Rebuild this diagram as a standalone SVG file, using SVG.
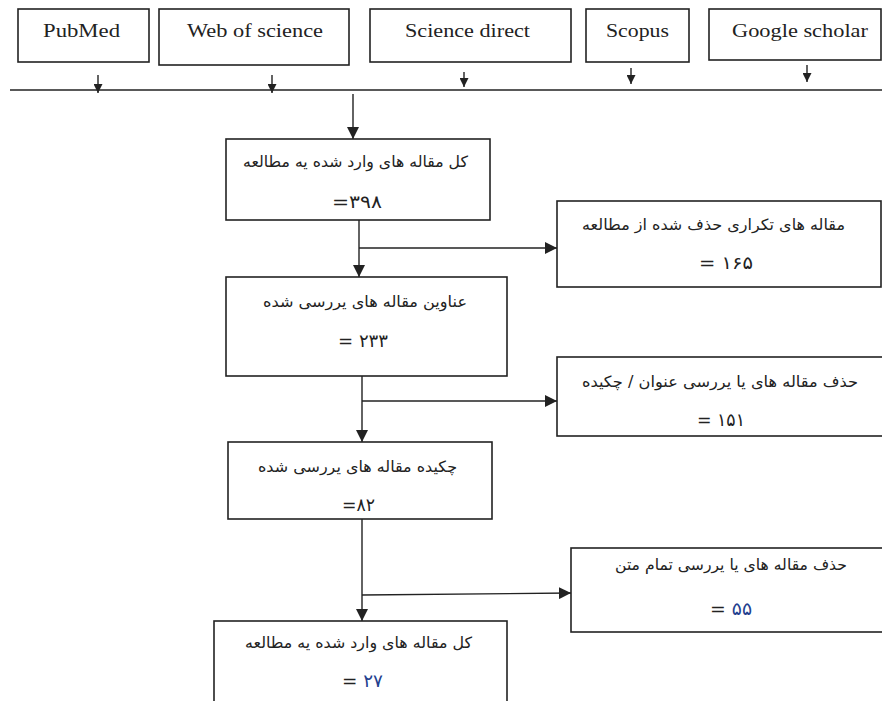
<svg xmlns="http://www.w3.org/2000/svg" width="882" height="701" viewBox="0 0 882 701">
<style>
.bg{fill:#fff}
.box{fill:#fff;stroke:#222;stroke-width:1.6}
.ln{fill:none;stroke:#222;stroke-width:1.4}
.lat{font-family:"Liberation Serif","Times New Roman",serif;font-size:19px;fill:#222;text-anchor:middle}
.fa{font-family:"DejaVu Sans","Noto Sans",sans-serif;font-size:15.5px;fill:#222;text-anchor:middle}
.num{font-family:"DejaVu Sans","Noto Sans",sans-serif;font-size:18px;fill:#222;text-anchor:middle}
.blue{fill:#23408e}
</style>
<defs>
<marker id="ah" viewBox="0 0 10 10" refX="10" refY="5" markerWidth="12" markerHeight="12" markerUnits="userSpaceOnUse" orient="auto">
<path d="M0,0 L10,5 L0,10 z" fill="#222"/>
</marker>
<marker id="ahs" viewBox="0 0 10 10" refX="10" refY="5" markerWidth="9" markerHeight="9" markerUnits="userSpaceOnUse" orient="auto">
<path d="M0,0 L10,5 L0,10 z" fill="#222"/>
</marker>
</defs>
<rect class="bg" x="0" y="0" width="882" height="701"/>

<g id="connectors">
<line class="ln" x1="10" y1="90" x2="882" y2="90"/>
<line class="ln" x1="98" y1="75" x2="98" y2="93" marker-end="url(#ahs)"/>
<line class="ln" x1="272" y1="75" x2="272" y2="93" marker-end="url(#ahs)"/>
<line class="ln" x1="464" y1="72" x2="464" y2="87" marker-end="url(#ahs)"/>
<line class="ln" x1="631" y1="68" x2="631" y2="84" marker-end="url(#ahs)"/>
<line class="ln" x1="807" y1="65" x2="807" y2="82" marker-end="url(#ahs)"/>
<line class="ln" x1="353" y1="94" x2="353" y2="139" marker-end="url(#ah)"/>
<line class="ln" x1="359" y1="220" x2="359" y2="277" marker-end="url(#ah)"/>
<line class="ln" x1="359" y1="248" x2="557" y2="248" marker-end="url(#ah)"/>
<line class="ln" x1="362" y1="376" x2="362" y2="442" marker-end="url(#ah)"/>
<line class="ln" x1="362" y1="401" x2="557" y2="401" marker-end="url(#ah)"/>
<line class="ln" x1="362" y1="519" x2="362" y2="621" marker-end="url(#ah)"/>
<line class="ln" x1="362" y1="595" x2="571" y2="593" marker-end="url(#ah)"/>
</g>

<g id="pubmed">
<rect class="box" x="18" y="9" width="131" height="53"/>
<text class="lat" x="81.5" y="37" textLength="77" lengthAdjust="spacingAndGlyphs">PubMed</text>
</g>
<g id="webofscience">
<rect class="box" x="159" y="9" width="190" height="56"/>
<text class="lat" x="255" y="37" textLength="136" lengthAdjust="spacingAndGlyphs">Web of science</text>
</g>
<g id="sciencedirect">
<rect class="box" x="370" y="9" width="201" height="53"/>
<text class="lat" x="467.5" y="37" textLength="125" lengthAdjust="spacingAndGlyphs">Science direct</text>
</g>
<g id="scopus">
<rect class="box" x="586" y="9" width="103" height="53"/>
<text class="lat" x="637.5" y="37" textLength="63" lengthAdjust="spacingAndGlyphs">Scopus</text>
</g>
<g id="googlescholar">
<rect class="box" x="709" y="9" width="172" height="51"/>
<text class="lat" x="800" y="37" textLength="136" lengthAdjust="spacingAndGlyphs">Google scholar</text>
</g>

<g id="total">
<rect class="box" x="226" y="139" width="264" height="81"/>
<text class="fa" x="355.5" y="167" direction="rtl" textLength="225" lengthAdjust="spacingAndGlyphs">کل مقاله های وارد شده یه مطالعه</text>
<text class="num" x="357" y="208" direction="ltr" textLength="50" lengthAdjust="spacingAndGlyphs">=۳۹۸</text>
</g>
<g id="duplicates">
<rect class="box" x="557" y="201" width="324" height="86"/>
<text class="fa" x="713.5" y="230" direction="rtl" textLength="263" lengthAdjust="spacingAndGlyphs">مقاله های تکراری حذف شده از مطالعه</text>
<text class="num" x="726" y="269" direction="ltr" textLength="54" lengthAdjust="spacingAndGlyphs">= ۱۶۵</text>
</g>
<g id="titles">
<rect class="box" x="226" y="277" width="281" height="99"/>
<text class="fa" x="365" y="307" direction="rtl" textLength="204" lengthAdjust="spacingAndGlyphs">عناوین مقاله های یررسی شده</text>
<text class="num" x="363" y="347" direction="ltr" textLength="50" lengthAdjust="spacingAndGlyphs">= ۲۳۳</text>
</g>
<g id="excluded-title">
<rect class="box" x="557" y="357" width="335" height="79"/>
<text class="fa" x="720" y="387" direction="rtl" textLength="276" lengthAdjust="spacingAndGlyphs">حذف مقاله های یا یررسی عنوان / چکیده</text>
<text class="num" x="721" y="426" direction="ltr" textLength="48" lengthAdjust="spacingAndGlyphs">= ۱۵۱</text>
</g>
<g id="abstracts">
<rect class="box" x="228" y="442" width="264" height="77"/>
<text class="fa" x="357.5" y="472" direction="rtl" textLength="199" lengthAdjust="spacingAndGlyphs">چکیده مقاله های یررسی شده</text>
<text class="num" x="358.5" y="511" direction="ltr" textLength="33" lengthAdjust="spacingAndGlyphs">=۸۲</text>
</g>
<g id="excluded-fulltext">
<rect class="box" x="571" y="548" width="321" height="84"/>
<text class="fa" x="731" y="570" direction="rtl" textLength="232" lengthAdjust="spacingAndGlyphs">حذف مقاله های یا یررسی تمام متن</text>
<text class="num" x="731" y="615" direction="ltr" textLength="42" lengthAdjust="spacingAndGlyphs">= <tspan class="blue">۵۵</tspan></text>
</g>
<g id="included">
<rect class="box" x="214" y="621" width="293" height="90"/>
<text class="fa" x="358.5" y="648" direction="rtl" textLength="227" lengthAdjust="spacingAndGlyphs">کل مقاله های وارد شده یه مطالعه</text>
<text class="num" x="362.5" y="687" direction="ltr" textLength="41" lengthAdjust="spacingAndGlyphs">= <tspan class="blue">۲۷</tspan></text>
</g>
</svg>
